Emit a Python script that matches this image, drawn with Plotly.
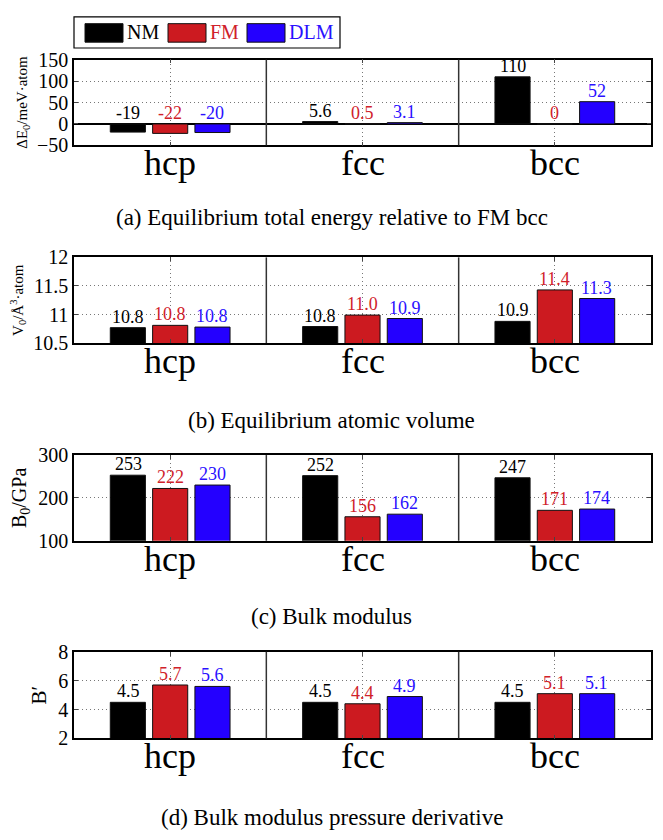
import plotly.graph_objects as go

W, H = 663, 840

structures = ["hcp", "fcc", "bcc"]
series = ["NM", "FM", "DLM"]
colors = ["#000000", "#CC1A20", "#2400FF"]
text_colors = ["#000000", "#D0212A", "#2A10FF"]

# (a) Equilibrium total energy relative to FM bcc (meV/atom)
dE_NM = [-19, 5.6, 110]
dE_FM = [-22, 0.5, 0]
dE_DLM = [-20, 3.1, 52]
dE_lab_NM = ["-19", "5.6", "110"]
dE_lab_FM = ["-22", "0.5", "0"]
dE_lab_DLM = ["-20", "3.1", "52"]

# (b) Equilibrium atomic volume (A^3/atom)
V_NM = [10.77, 10.79, 10.88]
V_FM = [10.81, 10.99, 11.43]
V_DLM = [10.78, 10.93, 11.28]

# (c) Bulk modulus (GPa)
B_NM = [253, 252, 247]
B_FM = [222, 156, 171]
B_DLM = [230, 162, 174]

# (d) Bulk modulus pressure derivative
Bp_NM = [4.5, 4.5, 4.5]
Bp_FM = [5.7, 4.4, 5.1]
Bp_DLM = [5.6, 4.9, 5.1]

panels = [
    dict(vals=[dE_NM, dE_FM, dE_DLM], labels=[dE_lab_NM, dE_lab_FM, dE_lab_DLM],
         yrange=[-50, 150], ticks=[-50, 0, 50, 100, 150],
         title="ΔE<sub>0</sub>/meV·atom", tfont=15, top=50, bot=138,
         caption="(a) Equilibrium total energy relative to FM bcc", cy=212, zero=True),
    dict(vals=[V_NM, V_FM, V_DLM], labels=None, fmt="{:.1f}",
         yrange=[10.5, 12], ticks=[10.5, 11, 11.5, 12],
         title="V<sub>0</sub>/Å<sup>3</sup>·atom", tfont=15, top=253, bot=341,
         caption="(b) Equilibrium atomic volume", cy=420, zero=False),
    dict(vals=[B_NM, B_FM, B_DLM], labels=None, fmt="{:.0f}",
         yrange=[100, 300], ticks=[100, 200, 300],
         title="B<sub>0</sub>/GPa", tfont=20, top=456, bot=544,
         caption="(c) Bulk modulus", cy=622, zero=False),
    dict(vals=[Bp_NM, Bp_FM, Bp_DLM], labels=None, fmt="{:.1f}",
         yrange=[2, 8], ticks=[2, 4, 6, 8],
         title="B′", tfont=21, top=658, bot=747,
         caption="(d) Bulk modulus pressure derivative", cy=828, zero=False),
]

FONT = "Liberation Serif, Times New Roman, serif"
X0, X1 = 74, 651

def px(x):
    return x / W

def py(y):
    return 1 - y / H

fig = go.Figure()
layout = dict(width=W, height=H, margin=dict(l=0, r=0, t=0, b=0),
              paper_bgcolor="white", plot_bgcolor="white",
              barmode="group", bargap=0.34, bargroupgap=0.17,
              showlegend=False, font=dict(family=FONT, color="black"))
annotations = []
shapes = []
xpos = list(range(len(structures)))
GRID = dict(showgrid=True, gridcolor="#777", griddash="1px,3px", gridwidth=1)

for i, p in enumerate(panels):
    k = "" if i == 0 else str(i + 1)
    xa, ya = "x" + k, "y" + k
    for s, name in enumerate(series):
        fig.add_trace(go.Bar(x=xpos, y=p["vals"][s], name=name, xaxis=xa, yaxis=ya,
                             marker=dict(color=colors[s], line=dict(color="#111111", width=1)),
                             offsetgroup=str(s)))
    layout["xaxis" + k] = dict(
        domain=[px(X0), px(X1)], anchor=ya, range=[-0.5, 2.5],
        tickvals=xpos, showticklabels=False,
        ticks="inside", ticklen=4, tickcolor="#444", showline=True, linecolor="black",
        linewidth=1.5, mirror="ticks", zeroline=False, fixedrange=True, **GRID)
    layout["yaxis" + k] = dict(
        domain=[py(p["bot"]), py(p["top"])], anchor=xa, range=p["yrange"],
        tickvals=p["ticks"], tickfont=dict(size=20, family=FONT),
        ticks="inside", ticklen=4, tickcolor="#444", showline=True, linecolor="black",
        linewidth=1.5, mirror="ticks", zeroline=p["zero"], zerolinecolor="black",
        zerolinewidth=1.5,
        title=dict(text=p["title"], font=dict(size=p["tfont"], family=FONT), standoff=6),
        fixedrange=True, **GRID)
    # group separators
    for xs in [0.5, 1.5]:
        shapes.append(dict(type="line", xref=xa, yref=ya + " domain", x0=xs, x1=xs,
                           y0=0, y1=1, line=dict(color="#333", width=1.5)))
    # group (structure) labels below each panel
    for j, st in enumerate(structures):
        annotations.append(dict(x=j, y=0, xref=xa, yref=ya + " domain", text=st,
                                showarrow=False, yanchor="top", yshift=4,
                                font=dict(size=36, family=FONT)))
    # value labels
    for s in range(len(series)):
        for j in xpos:
            v = p["vals"][s][j]
            lab = p["labels"][s][j] if p["labels"] else p["fmt"].format(v)
            off = (s - 1) * 0.219
            annotations.append(dict(x=j + off, y=max(v, 0), xref=xa, yref=ya,
                                    text=lab, showarrow=False, yanchor="bottom",
                                    yshift=-1, font=dict(size=18, color=text_colors[s], family=FONT)))
    annotations.append(dict(x=0.5, y=py(p["cy"]), xref="paper", yref="paper",
                            text=p["caption"], showarrow=False, xanchor="center",
                            yanchor="middle", font=dict(size=23, family=FONT)))

# legend box (drawn manually to match the large swatches)
shapes.append(dict(type="rect", xref="paper", yref="paper", x0=px(74), x1=px(340),
                   y0=py(38), y1=py(6), line=dict(color="black", width=1.2),
                   fillcolor="white"))
sw_x = [85, 168, 247]
for s, name in enumerate(series):
    shapes.append(dict(type="rect", xref="paper", yref="paper", x0=px(sw_x[s]),
                       x1=px(sw_x[s] + 38), y0=py(32), y1=py(13),
                       fillcolor=colors[s], line=dict(color="#111", width=1)))
    annotations.append(dict(x=px(sw_x[s] + 40), y=py(22), xref="paper", yref="paper",
                            text=name, showarrow=False, xanchor="left", yanchor="middle",
                            font=dict(size=20, color=text_colors[s], family=FONT)))

layout["annotations"] = annotations
layout["shapes"] = shapes
fig.update_layout(**layout)
fig.write_html("out.html")
